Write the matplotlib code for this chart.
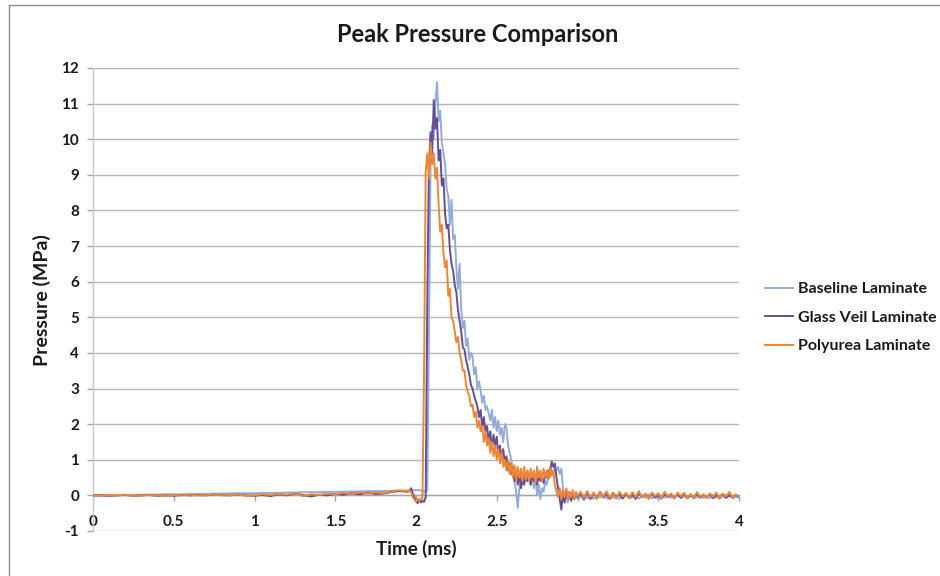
import matplotlib
matplotlib.use("Agg")
import matplotlib.pyplot as plt
import numpy as np
from matplotlib.lines import Line2D

plt.rcParams['font.family'] = ['Lato', 'DejaVu Sans']
plt.rcParams['axes.unicode_minus'] = False

# Sampling grid (ms): coarse before the pulse, fine through the pulse, medium in the tail
time_pre = np.round(np.arange(0.0, 1.951, 0.05), 2)     # 40 samples
time_main = np.round(np.arange(1.96, 3.001, 0.01), 2)   # 105 samples
time_tail = np.round(np.arange(3.02, 4.001, 0.02), 2)   # 50 samples

series_names = ["Baseline Laminate", "Glass Veil Laminate", "Polyurea Laminate"]

# Pressure (MPa) - Baseline Laminate
baseline_pre = [
    0.00, 0.00, 0.00, 0.01, 0.01, 0.01, 0.02, 0.02, 0.02, 0.03,
    0.03, 0.03, 0.04, 0.04, 0.04, 0.05, 0.05, 0.06, 0.06, 0.06,
    0.06, 0.07, 0.07, 0.07, 0.08, 0.08, 0.09, 0.09, 0.09, 0.10,
    0.10, 0.10, 0.11, 0.11, 0.12, 0.12, 0.12, 0.13, 0.13, 0.14,
]
baseline_main = [
    0.14, 0.14, 0.15, 0.14, 0.15, 0.14, 0.15, 0.14, 0.13, 0.12,
    0.10, 0.15, 4.50, 9.30, 10.4, 10.0, 11.0, 11.6, 10.5, 10.8,
    9.90, 9.60, 9.30, 8.60, 8.40, 7.60, 8.30, 7.20, 7.30, 6.40,
    5.80, 6.50, 5.20, 4.70, 4.90, 4.20, 4.40, 3.80, 4.00, 3.90,
    3.40, 3.60, 3.00, 3.20, 2.95, 2.60, 2.80, 2.40, 2.50, 2.30,
    2.10, 2.40, 1.90, 2.20, 1.80, 2.10, 1.70, 1.90, 1.50, 2.00,
    1.90, 1.40, 1.20, 1.00, 0.70, 0.40, 0.10, -0.35, 0.20, 0.50,
    0.30, 0.60, 0.40, 0.70, 0.50, 0.30, 0.60, 0.20, 0.50, 0.00,
    0.30, -0.10, 0.20, 0.10, 0.40, 0.30, 0.60, 0.50, 0.70, 0.60,
    0.80, 0.70, 0.80, 0.60, 0.75, 0.20, -0.20, 0.10, -0.20, 0.05,
    -0.15, 0.00, -0.10, 0.05, -0.10,
]
baseline_tail = [
    -0.05, 0.02, -0.08, -0.02, -0.10, 0.00, -0.06, 0.03, -0.09, -0.03,
    -0.07, 0.01, -0.10, -0.04, 0.02, -0.08, -0.05, 0.00, -0.09, -0.02,
    -0.06, 0.03, -0.08, -0.03, -0.10, -0.01, -0.06, 0.02, -0.07, -0.04,
    0.00, -0.08, -0.03, -0.06, 0.02, -0.09, -0.04, -0.01, -0.07, -0.03,
    -0.08, 0.01, -0.05, -0.09, -0.02, -0.06, 0.01, -0.08, -0.04, -0.06,
]

# Pressure (MPa) - Glass Veil Laminate
glass_pre = [
    0.00, 0.00, -0.01, 0.00, 0.01, -0.01, 0.00, 0.01, -0.01, 0.00,
    -0.01, 0.01, 0.00, 0.01, 0.00, 0.02, 0.01, 0.00, 0.02, 0.00,
    -0.01, 0.01, -0.02, 0.03, 0.00, 0.05, 0.01, -0.03, 0.02, 0.00,
    0.04, 0.02, 0.06, 0.03, 0.07, 0.04, 0.05, 0.10, 0.12, 0.10,
]
glass_main = [
    0.14, 0.20, 0.05, -0.05, -0.15, -0.22, -0.12, -0.20, -0.15, -0.18,
    -0.05, 5.50, 9.20, 10.2, 9.60, 11.1, 10.3, 10.6, 9.40, 9.70,
    8.70, 8.90, 7.90, 7.50, 7.60, 6.90, 6.50, 6.30, 5.90, 5.70,
    5.20, 4.90, 4.60, 4.15, 4.10, 3.80, 3.60, 3.40, 3.10, 3.00,
    2.80, 2.65, 2.50, 2.20, 2.40, 1.90, 2.20, 1.80, 1.95, 1.50,
    1.80, 1.30, 1.70, 1.40, 1.65, 1.10, 1.40, 1.00, 1.30, 0.90,
    1.10, 0.70, 0.90, 0.60, 0.80, 0.40, 0.70, 0.30, 0.60, 0.20,
    0.50, 0.30, 0.60, 0.40, 0.55, 0.30, 0.60, 0.40, 0.50, 0.30,
    0.60, 0.40, 0.50, 0.35, 0.60, 0.50, 0.70, 0.60, 0.95, 0.80,
    0.90, 0.50, 0.20, -0.10, -0.40, 0.10, -0.20, 0.15, -0.10, 0.10,
    -0.15, 0.05, -0.10, 0.05, -0.05,
]
glass_tail = [
    0.05, -0.12, 0.08, -0.10, 0.06, -0.08, 0.10, -0.06, 0.04, -0.10,
    0.07, -0.05, 0.03, -0.09, 0.05, -0.07, 0.02, -0.10, 0.06, -0.04,
    0.03, -0.08, 0.05, -0.06, 0.01, -0.09, 0.04, -0.05, 0.02, -0.07,
    0.03, -0.06, 0.05, -0.08, 0.00, -0.05, 0.04, -0.07, 0.02, -0.06,
    0.03, -0.08, 0.01, -0.05, 0.04, -0.07, 0.00, -0.06, 0.02, -0.05,
]

# Pressure (MPa) - Polyurea Laminate
poly_pre = [
    0.00, -0.01, 0.01, 0.00, 0.02, -0.01, 0.00, 0.01, 0.00, -0.01,
    0.01, 0.00, 0.02, 0.00, 0.01, 0.02, 0.00, 0.01, 0.02, -0.01,
    0.00, 0.03, 0.01, 0.04, 0.02, 0.06, -0.02, 0.03, 0.01, 0.05,
    0.03, 0.07, 0.04, 0.09, 0.05, 0.08, 0.06, 0.12, 0.14, 0.11,
]
poly_main = [
    0.15, 0.08, -0.05, -0.12, -0.18, -0.10, -0.15, -0.08, -0.10, 3.50,
    9.10, 9.60, 8.90, 9.90, 9.30, 9.60, 8.90, 9.20, 8.20, 7.40,
    7.60, 6.80, 6.40, 6.60, 5.60, 5.80, 5.00, 4.90, 4.60, 4.30,
    4.45, 4.00, 3.80, 3.50, 3.50, 3.10, 2.90, 2.80, 2.50, 2.55,
    2.20, 2.35, 1.90, 2.10, 1.80, 1.95, 1.50, 1.80, 1.40, 1.60,
    1.20, 1.50, 1.10, 1.40, 1.00, 1.30, 0.90, 1.20, 0.80, 1.00,
    0.70, 1.00, 0.60, 0.90, 0.50, 0.85, 0.40, 0.80, 0.50, 0.75,
    0.40, 0.80, 0.45, 0.70, 0.40, 0.75, 0.50, 0.70, 0.35, 0.80,
    0.50, 0.70, 0.40, 0.75, 0.50, 0.70, 0.45, 0.80, 0.55, 0.70,
    0.30, 0.10, -0.05, 0.20, -0.10, 0.15, -0.05, 0.20, -0.10, 0.10,
    -0.05, 0.15, -0.08, 0.10, -0.02,
]
poly_tail = [
    0.10, -0.08, 0.12, -0.05, 0.08, -0.10, 0.09, -0.04, 0.11, -0.07,
    0.06, -0.09, 0.10, -0.03, 0.07, -0.08, 0.09, -0.05, 0.12, -0.06,
    0.05, -0.10, 0.08, -0.02, 0.06, -0.07, 0.10, -0.04, 0.05, -0.09,
    0.08, -0.03, 0.07, -0.08, 0.04, -0.06, 0.09, -0.05, 0.03, -0.07,
    0.06, -0.04, 0.08, -0.09, 0.05, -0.03, 0.10, -0.06, 0.02, -0.05,
]

x_ticks = [0, 0.5, 1, 1.5, 2, 2.5, 3, 3.5, 4]
x_tick_labels = ["0", "0.5", "1", "1.5", "2", "2.5", "3", "3.5", "4"]
y_ticks = list(range(-1, 13))

colors = ["#93ABDB", "#654E94", "#EE8633"]

time = np.concatenate([time_pre, time_main, time_tail])
pressures = [
    np.concatenate([baseline_pre, baseline_main, baseline_tail]),
    np.concatenate([glass_pre, glass_main, glass_tail]),
    np.concatenate([poly_pre, poly_main, poly_tail]),
]

W, H = 940, 576
fig = plt.figure(figsize=(W / 100, H / 100), dpi=100)
ax = fig.add_axes([93 / W, 1 - 531 / H, (739 - 93) / W, (531 - 68) / H])

for name, p, c in zip(series_names, pressures, colors):
    ax.plot(time, p, color=c, lw=1.4, label=name, zorder=3)

ax.set_xlim(0, 4)
ax.set_ylim(-1, 12)
ax.set_yticks(y_ticks)
ax.set_xticks(x_ticks)
ax.set_xticklabels(x_tick_labels)

ax.yaxis.grid(True, color="#B5B5B5", lw=1.0, zorder=0)
ax.xaxis.grid(False)
ax.set_axisbelow(True)

for s in ("top", "right"):
    ax.spines[s].set_visible(False)
ax.spines["left"].set_color("#C8C8C8")
ax.spines["left"].set_linewidth(1.0)
ax.spines["bottom"].set_position(("data", 0))
ax.spines["bottom"].set_color("#A6A6A6")
ax.spines["bottom"].set_linewidth(1.0)

ax.tick_params(axis="y", direction="out", length=4, width=1, color="#A6A6A6",
               pad=6, labelsize=11)
ax.tick_params(axis="x", direction="out", length=4, width=1, color="#A6A6A6",
               pad=10, labelsize=11)
for lab in ax.get_xticklabels() + ax.get_yticklabels():
    lab.set_fontweight("bold")
    lab.set_color("#1A1A1A")

fig.text(478 / W, 1 - 35 / H, "Peak Pressure Comparison", ha="center", va="center",
         fontsize=17, fontweight="bold", color="#1A1A1A")
fig.text(42 / W, 1 - 300 / H, "Pressure (MPa)", ha="center", va="center",
         rotation=90, fontsize=14, fontweight="bold", color="#1A1A1A")
fig.text(416 / W, 1 - 549 / H, "Time (ms)", ha="center", va="center",
         fontsize=13.5, fontweight="bold", color="#1A1A1A")

leg = fig.legend(loc="upper left", bbox_to_anchor=(765 / W, 1 - 282 / H),
                 frameon=False, fontsize=11.5, handlelength=1.75, handletextpad=0.3,
                 labelspacing=0.9, borderpad=0, borderaxespad=0)
for txt in leg.get_texts():
    txt.set_fontweight("bold")
    txt.set_color("#1A1A1A")

# chart-area border
fig.add_artist(Line2D([8.5 / W, 8.5 / W], [0, 1 - 4.5 / H], transform=fig.transFigure,
                      color="#8C8C8C", lw=1.0))
fig.add_artist(Line2D([8.5 / W, 1], [1 - 4.5 / H, 1 - 4.5 / H], transform=fig.transFigure,
                      color="#8C8C8C", lw=1.0))

fig.savefig("out.png", dpi=100)
